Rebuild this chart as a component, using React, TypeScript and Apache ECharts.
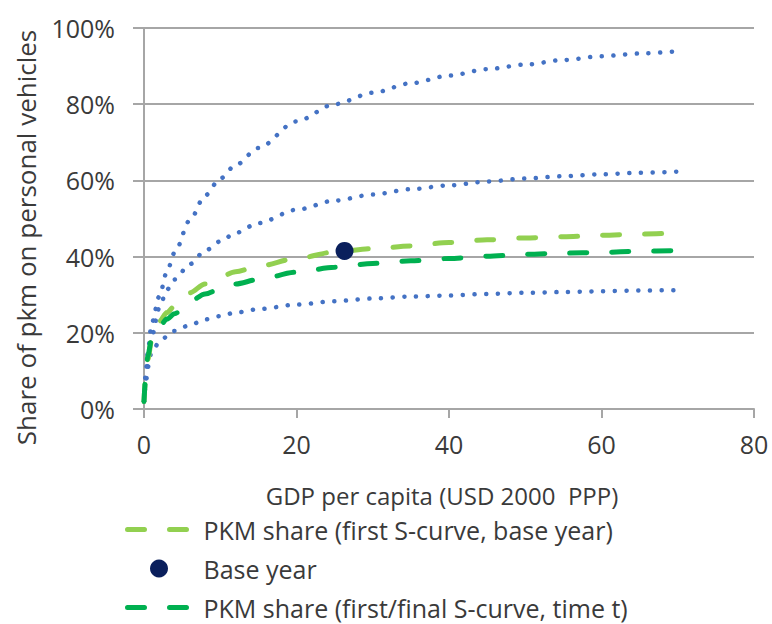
import React, { useEffect, useRef } from "react";
import * as echarts from "echarts";

const xValues = [0, 0.25, 0.5, 1, 2, 3, 4, 6, 8, 10, 12, 15, 20, 25, 30, 35, 40, 45, 50, 55, 60, 65, 70];
const upperCurve = [2, 10, 15, 22.5, 29.5, 36, 41, 49.5, 56, 60.5, 64, 68.5, 75.5, 80, 83, 85.5, 87.5, 89.2, 90.4, 91.6, 92.6, 93.3, 93.9];
const middleCurve = [2, 8, 13, 19, 26.5, 31.3, 34, 38, 41.5, 44, 46.2, 48.8, 52.3, 54.7, 56.3, 57.7, 58.7, 59.7, 60.5, 61.1, 61.6, 62, 62.3];
const lowerCurve = [2, 7, 11, 15, 17.5, 19, 20.5, 22, 23.5, 24.4, 25.3, 26.2, 27.4, 28.3, 29, 29.5, 29.8, 30.2, 30.5, 30.7, 30.9, 31.1, 31.2];
const baseYearCurve = [2, 9, 13, 18, 23, 25.3, 27, 30.5, 32.8, 34.7, 36, 37.5, 39.5, 41.2, 42.1, 42.8, 43.7, 44.4, 44.9, 45.2, 45.6, 45.9, 46.2];
const timeTCurve = [2, 9, 14, 18.5, 21.5, 23.6, 25, 28.2, 30.2, 31.5, 32.8, 34, 35.9, 37.2, 38.2, 38.9, 39.5, 40.1, 40.6, 40.9, 41.1, 41.4, 41.6];
const baseYearPoint = [26.3, 41.5];

const xTicks = [0, 20, 40, 60, 80];
const yTicks = [0, 20, 40, 60, 80, 100];

const legendNames = [
  "PKM share (first S-curve, base year)",
  "Base year",
  "PKM share (first/final S-curve, time t)",
];

const FONT = "'Open Sans'";
const TEXT = "#3a3a3a";
const GRID = "#a6a6a6";

function pairs(ys: number[]) {
  return xValues.map((x, i) => [x, ys[i]]);
}

export default function App() {
  const ref = useRef<HTMLDivElement>(null);
  useEffect(() => {
    if (!ref.current) return;
    const chart = echarts.init(ref.current, undefined, { renderer: "svg" });
    const dotted = {
      color: "#4472C4",
      width: 4.5,
      type: [0.1, 11.6] as any,
      cap: "round" as const,
    };
    const blue = (name: string, ys: number[]) => ({
      name,
      type: "line",
      data: pairs(ys),
      smooth: 0.3,
      smoothMonotone: "x",
      showSymbol: false,
      symbol: "none",
      lineStyle: dotted,
      itemStyle: { color: "#4472C4" },
      z: 2,
    });
    const greenLine = { width: 5, type: [17, 25] as any, cap: "round" as const };
    chart.setOption({
      animation: false,
      textStyle: { fontFamily: FONT },
      grid: { left: 144, right: 18, top: 28, bottom: 215, outerBoundsMode: "none" },
      legend: {
        orient: "vertical",
        left: 125,
        top: 517,
        padding: 0,
        itemWidth: 63,
        itemHeight: 18,
        itemGap: 14,
        data: [
          { name: legendNames[0], itemStyle: { opacity: 0 }, lineStyle: { color: "#92D050", ...greenLine } },
          { name: legendNames[1], icon: "circle" },
          { name: legendNames[2], itemStyle: { opacity: 0 }, lineStyle: { color: "#00B050", ...greenLine } },
        ],
        textStyle: { fontFamily: FONT, fontSize: 25, color: TEXT, padding: [0, 0, 0, 8], lineHeight: 25 },
      },
      xAxis: {
        type: "value",
        min: xTicks[0],
        max: xTicks[xTicks.length - 1],
        interval: 20,
        name: "GDP per capita (USD 2000  PPP)",
        nameLocation: "middle",
        nameGap: 72,
        nameTextStyle: { fontFamily: FONT, fontSize: 24, color: TEXT, lineHeight: 28, padding: [0, 14, 0, 0] },
        axisLine: { show: true, lineStyle: { color: GRID, width: 2 } },
        axisTick: { show: true, length: 9, lineStyle: { color: GRID, width: 2 } },
        axisLabel: { fontFamily: FONT, fontSize: 25, color: TEXT, margin: 21, lineHeight: 28 },
        splitLine: { show: false },
      },
      yAxis: {
        type: "value",
        min: yTicks[0],
        max: yTicks[yTicks.length - 1],
        interval: 20,
        name: "Share of pkm on personal vehicles",
        nameLocation: "middle",
        nameGap: 104,
        nameTextStyle: { fontFamily: FONT, fontSize: 26, color: TEXT, lineHeight: 28, padding: [0, 38, 0, 0] },
        axisLine: { show: true, lineStyle: { color: GRID, width: 2 } },
        axisTick: { show: true, length: 11, lineStyle: { color: GRID, width: 2 } },
        axisLabel: { fontFamily: FONT, fontSize: 25, color: TEXT, margin: 29, formatter: "{value}%" },
        splitLine: { show: true, lineStyle: { color: GRID, width: 2 } },
      },
      series: [
        blue("upper", upperCurve),
        blue("middle", middleCurve),
        blue("lower", lowerCurve),
        {
          name: legendNames[0],
          type: "line",
          data: pairs(baseYearCurve),
          smooth: 0.3,
          smoothMonotone: "x",
          showSymbol: false,
          symbol: "none",
          lineStyle: { color: "#92D050", ...greenLine },
          itemStyle: { color: "#92D050" },
          z: 3,
        },
        {
          name: legendNames[2],
          type: "line",
          data: pairs(timeTCurve),
          smooth: 0.3,
          smoothMonotone: "x",
          showSymbol: false,
          symbol: "none",
          lineStyle: { color: "#00B050", ...greenLine },
          itemStyle: { color: "#00B050" },
          z: 4,
        },
        {
          name: legendNames[1],
          type: "scatter",
          data: [baseYearPoint],
          symbol: "circle",
          symbolSize: 18,
          itemStyle: { color: "#0A1F5C", opacity: 1 },
          z: 5,
        },
      ],
    });
    return () => chart.dispose();
  }, []);
  return <div ref={ref} style={{ position: "absolute", left: 0, top: 0, width: 772, height: 624 }} />;
}
